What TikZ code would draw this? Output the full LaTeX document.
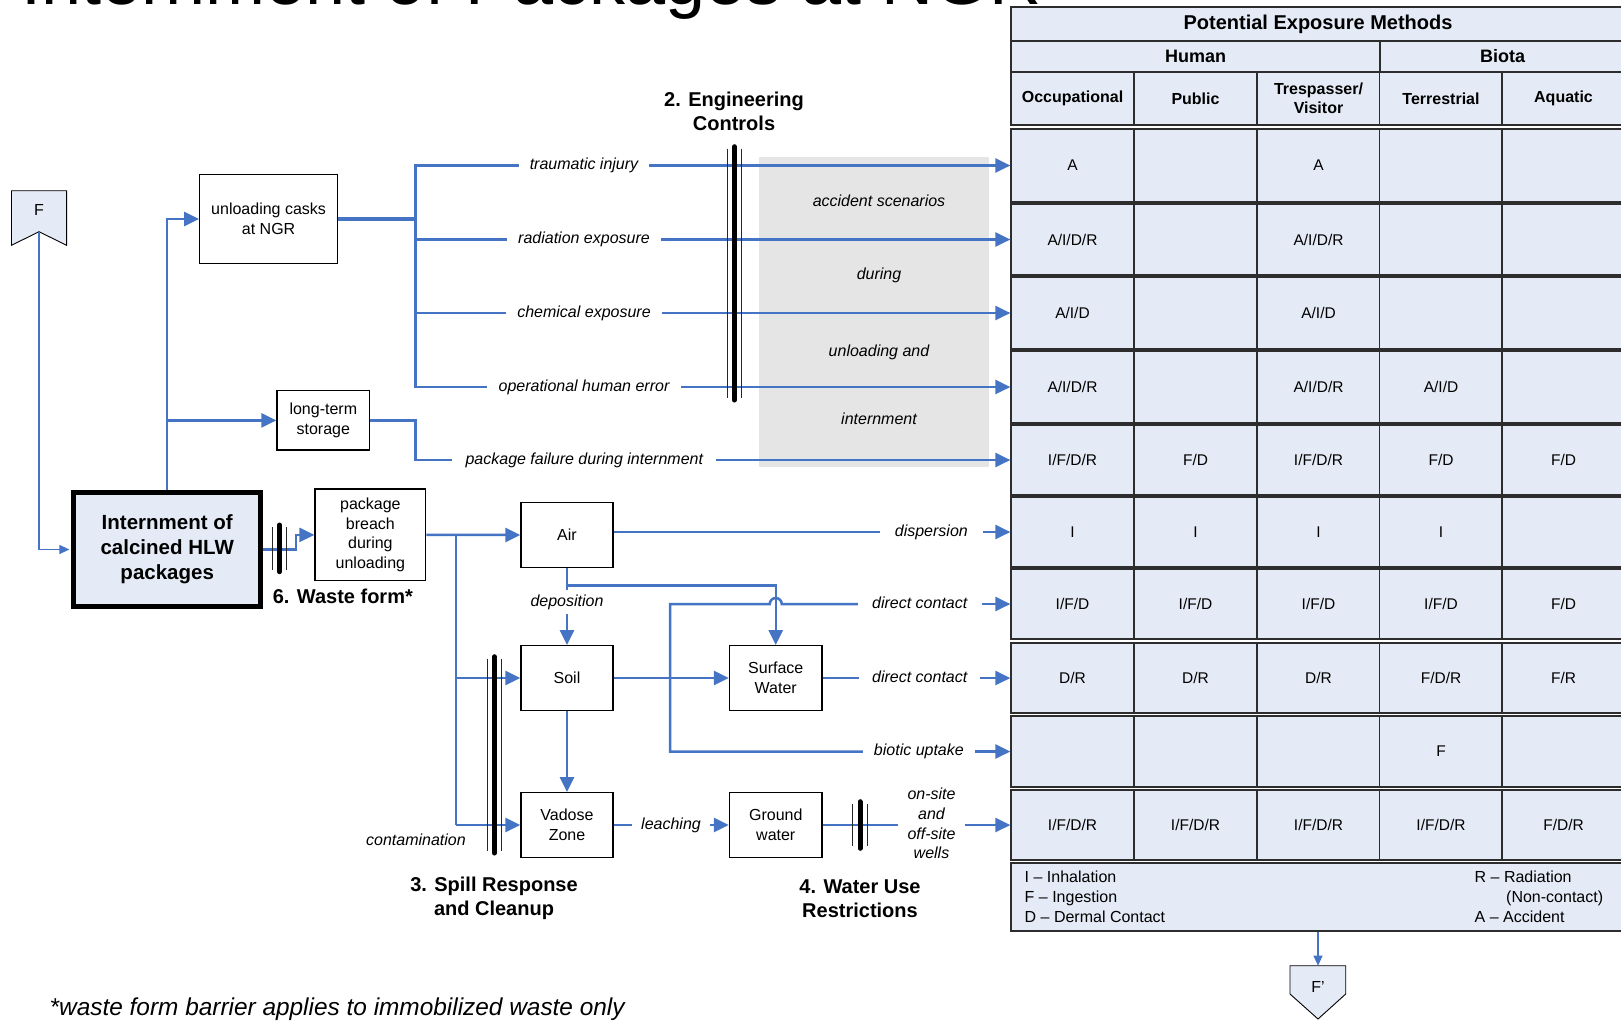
\documentclass[tikz,border=0pt]{standalone}
\usepackage{fontspec}
\setmainfont{Liberation Sans}
\usetikzlibrary{arrows.meta}
\definecolor{flowblue}{RGB}{70,116,196}
\definecolor{cellfill}{RGB}{229,235,246}
\definecolor{cellline}{RGB}{45,45,45}
\definecolor{scenfill}{RGB}{229,229,229}
\newcommand\fz[2]{\fontsize{#1}{#2}\selectfont}
% one data row of the exposure table: name, top, bottom, five entries
\newcommand\trow[8]{%
  \node[cell,minimum height={#3-#2}] (#1a) at (1072.5,{(#2+#3)/2}) {#4};
  \node[cell,minimum height={#3-#2}] (#1b) at (1195.5,{(#2+#3)/2}) {#5};
  \node[cell,minimum height={#3-#2}] (#1c) at (1318.5,{(#2+#3)/2}) {#6};
  \node[cell,minimum height={#3-#2}] (#1d) at (1441,{(#2+#3)/2}) {#7};
  \node[cell,minimum height={#3-#2}] (#1e) at (1563.5,{(#2+#3)/2}) {#8};}
% barrier symbol: heavy bar between two thin rules
\newcommand\barrier[3]{%
  \draw[line width=0.9pt,black!85] (#1-7.2,#2+2) -- (#1-7.2,#3-2);
  \draw[line width=0.9pt,black!85] (#1+7.2,#2+2) -- (#1+7.2,#3-2);
  \draw[line width=5pt,line cap=round] (#1,#2) -- (#1,#3);}
\begin{document}
\begin{tikzpicture}[x=1pt,y=-1pt,
  box/.style={draw=black,line width=1.3pt,fill=white,align=center,font=\fz{16}{19.7},inner sep=0pt},
  flow/.style={draw=flowblue,line width=2.5pt},
  arr/.style={flow,-{Triangle[length=15pt,width=14pt]}},
  thinarr/.style={draw=flowblue,line width=1.1pt,-{Triangle[length=10pt,width=9pt]}},
  lab/.style={font=\itshape\fz{16}{19.7},inner xsep=11pt,inner ysep=0pt,align=center},
  lab1/.style={lab,text height=11.5pt,text depth=3.5pt},
  cell/.style={draw=cellline,line width=1.2pt,fill=cellfill,minimum width=123pt,inner sep=0pt,align=center,font=\fz{15.5}{18}},
  head/.style={cell,font=\bfseries\fz{16}{18.5}},
  ctl/.style={font=\bfseries\fz{20}{24.5},align=center,inner sep=0pt},
  scentext/.style={font=\itshape\fz{16}{19},inner sep=0pt}]
\useasboundingbox (0,0) rectangle (1621,1020);
\clip (0,0) rectangle (1621,1020);

% heading of the slide
\node[anchor=base west,font=\fz{72}{80},inner sep=0pt] (ttl) at (21,4.5) {Internment of Packages at NGR};

% ---------- exposure table ----------
\node[cell,font=\bfseries\fz{20}{24},minimum width=614pt,minimum height=34pt,text height=14.5pt,text depth=4.5pt] (pem) at (1318,24) {Potential Exposure Methods};
\node[cell,font=\bfseries\fz{18}{22},minimum width=369pt,minimum height=31pt] (human) at (1195.5,56.5) {Human};
\node[cell,font=\bfseries\fz{18}{22},minimum width=245pt,minimum height=31pt] (biota) at (1502.5,56.5) {Biota};
\node[head,minimum height=53pt] (h1) at (1072.5,98.5) {Occupational};
\node[head,minimum height=53pt] (h2) at (1195.5,98.5) {Public};
\node[head,minimum height=53pt] (h3) at (1318.5,98.5) {Trespasser/\\Visitor};
\node[head,minimum height=53pt] (h4) at (1441,98.5) {Terrestrial};
\node[head,minimum height=53pt] (h5) at (1563.5,98.5) {Aquatic};

\trow{ra}{129}{202}{A}{}{A}{}{}
\trow{rb}{204}{275}{A/I/D/R}{}{A/I/D/R}{}{}
\trow{rc}{277}{349}{A/I/D}{}{A/I/D}{}{}
\trow{rd}{351}{423}{A/I/D/R}{}{A/I/D/R}{A/I/D}{}
\trow{re}{425}{495}{I/F/D/R}{F/D}{I/F/D/R}{F/D}{F/D}
\trow{rf}{497}{567}{I}{I}{I}{I}{}
\trow{rg}{569}{639}{I/F/D}{I/F/D}{I/F/D}{I/F/D}{F/D}
\trow{rh}{643}{713}{D/R}{D/R}{D/R}{F/D/R}{F/R}
\trow{ri}{716}{787}{}{}{}{F}{}
\trow{rj}{790}{860}{I/F/D/R}{I/F/D/R}{I/F/D/R}{I/F/D/R}{F/D/R}

\node[cell,minimum width=614pt,minimum height=68pt] (legend) at (1318,897) {};
\node[anchor=west,align=left,font=\fz{16}{20},inner sep=0pt] (legL) at (1024.5,897) {I -- Inhalation\\F -- Ingestion\\D -- Dermal Contact};
\node[anchor=west,align=left,font=\fz{16}{20},inner sep=0pt] (legR) at (1474.5,897) {R -- Radiation\\\hspace*{31.5pt}(Non-contact)\\A -- Accident};

% off-page connectors
\draw[line width=0.9pt,fill=cellfill] (11.5,190.7) -- (66.6,190.7) -- (66.6,245.3) -- (39,231.7) -- (11.5,245.3) -- cycle;
\node[font=\fz{16}{19}] (fsrc) at (39,210) {F};
\coordinate (fnotch) at (39,231.7);
\draw[line width=0.9pt,fill=cellfill] (1290,965.7) -- (1345.7,965.7) -- (1345.7,994) -- (1318,1019) -- (1290,994) -- cycle;
\node[font=\fz{16}{19}] (fdst) at (1318,986.7) {F’};
\coordinate (fdtop) at (1318,965.7);

% ---------- scenario band ----------
\node[fill=scenfill,minimum width=229.4pt,minimum height=309.4pt,inner sep=0pt] (scen) at (874,312) {};
\node[scentext] (scen1) at (879,201) {accident scenarios};
\node[scentext] (scen2) at (879,275.7) {during};
\node[scentext] (scen3) at (879,352) {unloading and};
\node[scentext] (scen4) at (879,419) {internment};

% ---------- process boxes ----------
\node[box,line width=5pt,fill=cellfill,font=\bfseries\fz{20.5}{25},minimum width=186.6pt,minimum height=114pt] (intern) at (167.2,549.5) {Internment of\\calcined HLW\\packages};
\node[box,minimum width=137.8pt,minimum height=88.7pt] (unl) at (268.6,219) {unloading casks\\at NGR};
\node[box,minimum width=92.6pt,minimum height=59.3pt] (lts) at (323.3,420.4) {long-term\\storage};
\node[box,minimum width=110.7pt,minimum height=91.7pt] (breach) at (370.4,534.9) {package\\breach\\during\\unloading};
\node[box,minimum width=92pt,minimum height=65pt] (air) at (567,535) {Air};
\node[box,minimum width=92pt,minimum height=64.6pt] (soil) at (567,678) {Soil};
\node[box,minimum width=92pt,minimum height=64.6pt] (vadose) at (567,825) {Vadose\\Zone};
\node[box,minimum width=92.5pt,minimum height=64.6pt] (sw) at (775.75,678) {Surface\\Water};
\node[box,minimum width=92.5pt,minimum height=64.6pt] (gw) at (775.75,825) {Ground\\water};

% ---------- pathway labels ----------
\node[lab1] (trauma) at (584,165.5) {traumatic injury};
\node[lab1] (radexp) at (584,239.5) {radiation exposure};
\node[lab1] (chemexp) at (584,313) {chemical exposure};
\node[lab1] (operr) at (584,387) {operational human error};
\node[lab1,inner xsep=13pt] (pfail) at (584.3,460) {package failure during internment};
\node[lab1,anchor=east,inner xsep=15pt] (disp) at (983,532) {dispersion};
\node[lab1,anchor=east,inner xsep=14pt] (dc1) at (981.5,604) {direct contact};
\node[lab1,anchor=east,inner xsep=12.5pt] (dc2) at (980,678) {direct contact};
\node[lab1,anchor=east,inner xsep=11pt] (bio) at (975,751.5) {biotic uptake};
\node[lab,inner xsep=9pt] (wells) at (931.5,823.5) {on-site\\and\\off-site\\wells};
\node[lab1,inner xsep=9pt] (leach) at (671,825) {leaching};
\node[lab1,inner xsep=0pt,inner ysep=4.5pt] (dep) at (567,602) {deposition};
\node[lab1,anchor=east,inner sep=0pt] (contam) at (466,841.5) {contamination};

% ---------- barrier captions ----------
\node[ctl] (ctlA) at (734,111.5) {2. Engineering\\Controls};
\node[ctl] (ctlB) at (494,898.5) {3. Spill Response\\and Cleanup};
\node[ctl] (ctlC) at (860,898.5) {4. Water Use\\Restrictions};
\node[ctl,anchor=west] (ctlD) at (272.6,596.5) {6. Waste form*};
\node[anchor=base west,font=\itshape\fz{24.4}{30},inner sep=0pt] (note) at (49.5,1015) {*waste form barrier applies to immobilized waste only};

% ---------- connectors ----------
\coordinate (trunk) at (415.5,165.5);
\draw[thinarr,shorten >=2pt] (fnotch) |- (intern.west);
\draw[thinarr] (legend.south) -- (fdtop);

\draw[arr] (intern.north) |- (unl.west);
\draw[arr] (intern.north |- lts.west) -- (lts.west);
\draw[flow,line width=3.2pt] (unl.east) -- (unl.east -| trunk);
\draw[flow] (trauma.west) -- (trauma.west -| trunk) -- (operr.west -| trunk) -- (operr.west);
\draw[flow] (radexp.west) -- (radexp.west -| trunk);
\draw[flow] (chemexp.west) -- (chemexp.west -| trunk);
\draw[flow] (lts.east) -- (lts.east -| trunk) |- (pfail.west);
\draw[arr] (trauma.east) -- (raa.west);
\draw[arr] (radexp.east) -- (rba.west);
\draw[arr] (chemexp.east) -- (rca.west);
\draw[arr] (operr.east) -- (rda.west);
\draw[arr] (pfail.east) -- (rea.west);

\coordinate (wfk) at (296,549.5);
\draw[arr] (intern.east) -- (wfk) |- (breach.west);
\draw[arr] (breach.east) -- (air.west);
\coordinate (ct) at (456,534.9);
\draw[flow] (ct) -- (ct |- vadose.west);
\draw[arr] (ct |- vadose.west) -- (vadose.west);
\draw[arr] (ct |- soil.west) -- (soil.west);

\draw[flow] (air.east |- disp.west) -- (disp.west);
\draw[arr] (disp.east) -- (rfa.west);
\coordinate (ab) at (567,585.7);
\draw[flow] (air.south) -- (dep.north);
\draw[arr] (dep.south) -- (soil.north);
\draw[arr] (ab) -| (sw.north);
\coordinate (dk) at (670,604);
\draw[flow] (bio.west) -| (dk) -- (769.75,604) arc[start angle=180,end angle=0,radius=6pt] -- (dc1.west);
\draw[arr] (dc1.east) -- (rga.west);
\draw[arr] (bio.east) -- (ria.west);
\draw[arr] (soil.east) -- (sw.west);
\draw[arr] (soil.south) -- (vadose.north);
\draw[flow] (sw.east) -- (dc2.west);
\draw[arr] (dc2.east) -- (rha.west);
\draw[flow] (vadose.east) -- (leach.west);
\draw[arr] (leach.east) -- (gw.west);
\draw[flow] (gw.east) -- (gw.east -| wells.west);
\draw[arr] (wells.east |- rja.west) -- (rja.west);

% ---------- barriers ----------
\barrier{734.3}{146.7}{400}
\barrier{279.6}{525}{571.7}
\barrier{494.3}{656.7}{853}
\barrier{860}{801.7}{848.3}
\end{tikzpicture}
\end{document}
